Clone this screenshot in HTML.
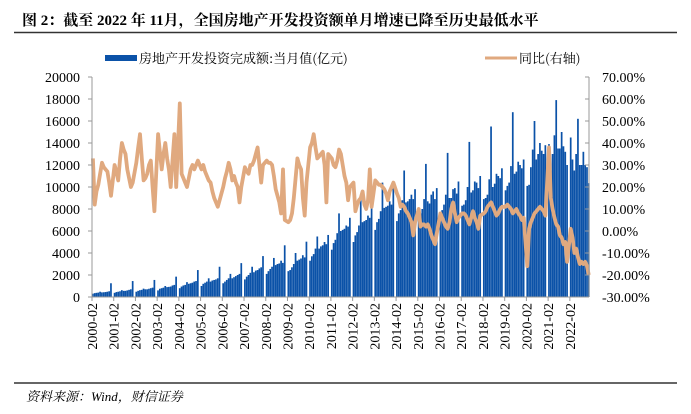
<!DOCTYPE html>
<html><head><meta charset="utf-8"><style>
body{margin:0;background:#fff;width:691px;height:409px;overflow:hidden;font-family:"Liberation Serif","Noto Serif CJK SC",serif}
</style></head><body>
<svg id="c" width="691" height="409" xmlns="http://www.w3.org/2000/svg">
<text x="22" y="25" font-size="15" font-weight="bold" fill="#000" font-family="Liberation Serif, Noto Serif CJK SC, serif">图 2：截至 2022 年 11月，全国房地产开发投资额单月增速已降至历史最低水平</text>
<line x1="14" y1="32.5" x2="677" y2="32.5" stroke="#333" stroke-width="1.5"/>
<g>
<rect x="105" y="55" width="32" height="6" fill="#0b52a8"/>
<text x="139" y="63" font-size="13" font-family="Noto Serif CJK SC, serif">房地产开发投资完成额:当月值(亿元)</text>
<line x1="485" y1="58" x2="517" y2="58" stroke="#e0a97f" stroke-width="3"/>
<text x="519" y="63" font-size="13" font-family="Noto Serif CJK SC, serif">同比(右轴)</text>
</g>
<g id="plot"></g>
<line x1="14" y1="383" x2="677" y2="383" stroke="#333" stroke-width="1.5"/>
<text x="26" y="401" font-size="13" font-style="italic" font-family="Liberation Serif, Noto Serif CJK SC, serif">资料来源：Wind，财信证券</text>
</svg>
<script>
const years=[2000,2001,2002,2003,2004,2005,2006,2007,2008,2009,2010,2011,2012,2013,2014,2015,2016,2017,2018,2019,2020,2021,2022];
// monthly values Feb..Dec per year (亿元)
const invest=[
[300,350,380,400,480,420,430,450,480,520,1250],
[380,450,480,520,620,560,560,600,650,700,1450],
[480,560,620,650,760,700,700,750,800,850,1550],
[600,750,800,850,1000,900,920,950,1050,1100,1850],
[800,950,1050,1100,1350,1200,1250,1300,1400,1450,2450],
[1000,1200,1300,1400,1700,1400,1500,1550,1600,1700,2750],
[1250,1400,1550,1700,2100,1700,1800,1900,2000,2100,3080],
[1600,1850,2000,2200,2750,2250,2400,2450,2600,2700,3720],
[2100,2350,2550,2750,3550,2900,3000,3050,3300,3100,4700],
[2350,2450,2700,3000,4000,3300,3400,3500,3800,3600,5030],
[3300,3700,3900,4400,5500,4400,4600,4700,5000,4800,5640],
[4300,4900,5200,5800,7600,6000,6100,6200,6500,6400,7200],
[5000,5600,5900,6500,8900,6800,6900,7000,7400,7200,8500],
[6100,6800,7100,7800,10400,8100,8200,8300,8700,8400,10000],
[6900,7600,7900,8800,11500,8600,8700,8900,9300,8900,9800],
[7200,7600,8000,8900,12100,8700,8500,9300,9600,8900,9900],
[7400,7900,8400,9300,13100,9000,9000,9800,9900,9400,10500],
[8300,8400,8800,10000,14100,9500,9700,10500,10400,9900,11000],
[8900,9000,9300,10700,15500,10000,10300,11200,11000,10800,11700],
[9700,10100,10400,11900,16800,11200,11400,12300,12000,11700,12500],
[10100,10200,11800,13400,16000,12500,13000,14000,13300,13000,13800],
[13900,11500,13000,14700,17900,13500,13500,15000,13700,13200,12000],
[14500,12500,11500,13000,16200,12000,12000,13200,12000,11800,10350]];
// YoY % Feb..Dec per year
const yoy=[
[33,12,18,21,26,31,29,28,27,22,16],
[30,27,23,33,40,37,35,28,24,20,22],
[31,38,44,33,23,24,26,30,32,20,9],
[44,36,28,35,40,33,28,20,32,44,20],
[58,26,24,22,20,24,28,30,28,30,32],
[28,30,27,25,23,22,18,15,13,11,14],
[20,24,27,31,28,23,25,22,20,13,20],
[29,27,26,30,30,32,35,38,30,22,30],
[32,31,31,30,25,19,16,13,8,28,5],
[4,5,8,15,24,33,30,28,15,7,22],
[38,40,44,38,33,34,35,36,30,13,35],
[33,30,29,32,37,35,30,25,22,14,20],
[22,9,12,14,15,18,12,10,14,28,11],
[23,22,21,21,20,19,17,14,18,20,22],
[17,15,11,12,11,9,8,6,4,-2,4],
[10,2,3,3,2,3,1,-2,-4,-6,-1],
[8,6,4,2,1,4,10,13,8,4,6],
[8,8,7,5,3,6,9,6,4,1,7],
[8,9,11,12,13,11,9,7,8,10,11],
[11,12,11,10,8,9,10,8,7,5,6],
[-16,1,4,6,8,9,10,11,10,9,7],
[38,15,10,6,3,2,-2,-3,-6,-5,-14],
[1,-3,-10,-8,-12,-15,-14,-15,-14,-16,-20]];
const leftTicks=[0,2000,4000,6000,8000,10000,12000,14000,16000,18000,20000];
const rightTicks=[-30,-20,-10,0,10,20,30,40,50,60,70];

const X0=92,X1=589,Y0=297,Y1=77,MW=1.81;
const xm=i=>X0+i*MW;
const yL=v=>Y0-(v/20000)*(Y0-Y1);
const yR=p=>Y0-((p+30)/100)*(Y0-Y1);
const NS="http://www.w3.org/2000/svg";
const g=document.getElementById('plot');
function mk(t,a){const e=document.createElementNS(NS,t);for(const k in a)e.setAttribute(k,a[k]);g.appendChild(e);return e;}

years.forEach((yr,yi)=>{invest[yi].forEach((v,m)=>{
  const i=yi*12+m;
  const r=mk('rect',{x:xm(i),y:yL(v),width:MW-0.1,height:Y0-yL(v),fill:'#0b52a8'});
  
  
});});
let pts=[];
years.forEach((yr,yi)=>{yoy[yi].forEach((p,m)=>{const i=yi*12+m;pts.push((xm(i)+MW/2).toFixed(1)+','+yR(p).toFixed(1));});});
const pl=mk('polyline',{points:pts.join(' '),fill:'none',stroke:'#e0a97f','stroke-width':3.8,'stroke-linejoin':'round'});


const la=mk('line',{x1:X0,y1:Y1,x2:X0,y2:Y0,stroke:'#999'});


const ra=mk('line',{x1:X1,y1:Y1,x2:X1,y2:Y0,stroke:'#999'});


const xa=mk('line',{x1:X0,y1:Y0,x2:X1,y2:Y0,stroke:'#999'});


leftTicks.forEach(v=>{
  mk('line',{x1:X0-4,y1:yL(v),x2:X0,y2:yL(v),stroke:'#999'});
  const t=mk('text',{x:80,y:yL(v)+5,'text-anchor':'end','font-size':14,fill:'#000'});
  t.textContent=v;
  
  
});
rightTicks.forEach(p=>{
  mk('line',{x1:X1-4,y1:yR(p),x2:X1,y2:yR(p),stroke:'#999'});
  const t=mk('text',{x:602,y:yR(p)+5,'font-size':14,fill:'#000'});
  t.textContent=p.toFixed(2)+'%';
  
  
});
years.forEach((yr,yi)=>{
  const x=xm(yi*12);
  mk('line',{x1:x,y1:Y0,x2:x,y2:Y0+4,stroke:'#999'});
  const t=mk('text',{x:0,y:0,'text-anchor':'end','font-size':14,fill:'#000',transform:'translate('+(x+5)+','+(Y0+6)+') rotate(-90)'});
  t.textContent=yr+'-02';
  
  
});
</script>
</body></html>
